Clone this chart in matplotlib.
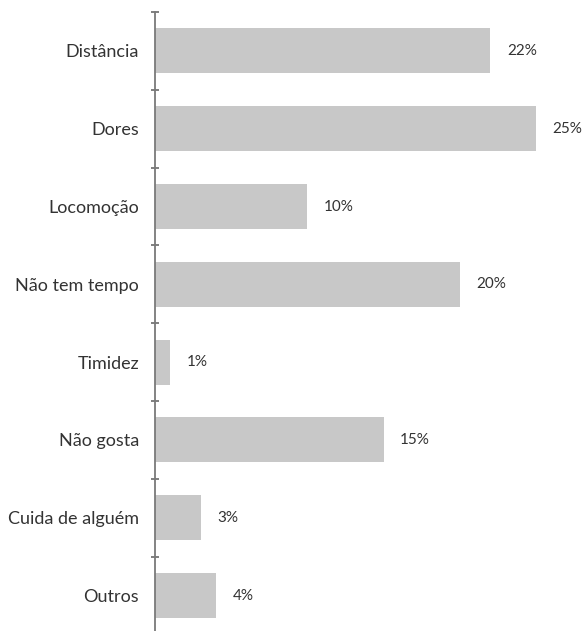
import matplotlib
matplotlib.use("Agg")
import matplotlib.pyplot as plt
import numpy as np

categories = ["Distância", "Dores", "Locomoção", "Não tem tempo", "Timidez",
              "Não gosta", "Cuida de alguém", "Outros"]
values = [22, 25, 10, 20, 1, 15, 3, 4]
value_labels = ["22%", "25%", "10%", "20%", "1%", "15%", "3%", "4%"]

plt.rcParams['font.family'] = ['Lato', 'DejaVu Sans']

W, H = 585, 631
fig = plt.figure(figsize=(W / 100, H / 100), dpi=100)
left_px, top_px = 155, 12
band_px = 77.8
ax = fig.add_axes([left_px / W, 0, (W - left_px) / W, (H - top_px) / H])

unit_px = 381 / 25.0
ax.set_xlim(0, (W - left_px) / unit_px)
ax.set_ylim(-0.5 + (H - top_px) / band_px, -0.5)

y = np.arange(len(categories))
ax.barh(y, values, height=0.58, color="#c8c8c8", edgecolor="none")

for yi, v, lab in zip(y, values, value_labels):
    ax.annotate(lab, xy=(v, yi), xytext=(12, 0), textcoords="offset points",
                va="center", ha="left", fontsize=11, color="#333333")

for s in ["top", "right", "bottom"]:
    ax.spines[s].set_visible(False)
ax.spines["left"].set_color("#7a7a7a")
ax.spines["left"].set_linewidth(1.3)

ax.set_xticks([])
ax.set_yticks(y)
ax.set_yticklabels(categories, fontsize=13, color="#333333")
ax.tick_params(axis="y", which="major", length=0, pad=11.5)
ax.set_yticks(np.arange(-0.5, len(categories) - 0.5, 1), minor=True)
ax.tick_params(axis="y", which="minor", direction="inout", length=6,
               width=1.2, color="#6a6a6a")

fig.savefig("out.png", dpi=100)
